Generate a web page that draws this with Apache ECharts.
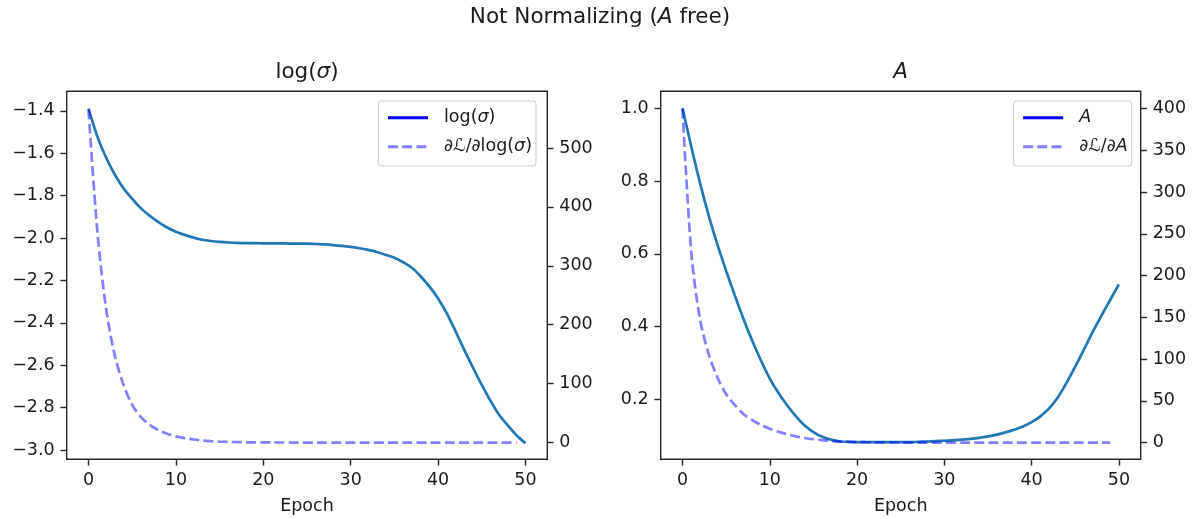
<!DOCTYPE html>
<html><head><meta charset="utf-8">
<script src="https://cdn.jsdelivr.net/npm/echarts@6/dist/echarts.min.js"></script>
<style>html,body{margin:0;padding:0;background:#fff}#c{width:1199px;height:519px}</style>
</head><body><div id="c"></div>
<script>
const epochs = [0,1,2,3,4,5,6,7,8,9,10,11,12,13,14,15,16,17,18,19,20,21,22,23,24,25,26,27,28,29,30,31,32,33,34,35,36,37,38,39,40,41,42,43,44,45,46,47,48,49,50];
const logSigma = [-1.389,-1.52,-1.62,-1.70,-1.765,-1.815,-1.86,-1.895,-1.925,-1.95,-1.97,-1.985,-1.998,-2.008,-2.014,-2.018,-2.021,-2.023,-2.024,-2.024,-2.025,-2.025,-2.025,-2.026,-2.026,-2.026,-2.028,-2.030,-2.033,-2.037,-2.042,-2.048,-2.056,-2.066,-2.079,-2.093,-2.114,-2.14,-2.18,-2.228,-2.285,-2.355,-2.44,-2.528,-2.612,-2.693,-2.768,-2.835,-2.885,-2.932,-2.968];
const gradLogSigma = [565,360,228,148,98,64,43,30,21,15,10.5,7.5,5.2,3.6,2.5,1.7,1.2,0.8,0.5,0.35,0.25,0.18,0.12,0.08,0.05,0.03,0.02,0.01,0,0,0,0,0,0,0,0,0,0,0,0,0,0,0,0,0,0,0,0,0,0];
const aValues = [1.0,0.895,0.795,0.705,0.625,0.553,0.485,0.42,0.36,0.306,0.257,0.217,0.183,0.153,0.128,0.11,0.097,0.089,0.084,0.083,0.082,0.082,0.082,0.082,0.082,0.082,0.082,0.083,0.084,0.085,0.086,0.087,0.089,0.091,0.094,0.098,0.103,0.109,0.116,0.125,0.137,0.153,0.175,0.205,0.245,0.29,0.337,0.385,0.43,0.473,0.516];
const gradA = [400,228,148,106,78,58,45,34,27,21,16.5,13,10,7.5,5.5,4,3,2,1.4,1,0.7,0.5,0.35,0.25,0.15,0.1,0.05,0.02,0,0,0,0,0,0,0,0,0,0,0,0,0,0,0,0,0,0,0,0,0,0];
const xTicks = [0,10,20,30,40,50];
const logSigmaTicks = [-3.0,-2.8,-2.6,-2.4,-2.2,-2.0,-1.8,-1.6,-1.4];
const gradLogSigmaTicks = [0,100,200,300,400,500];
const aTicks = [0.2,0.4,0.6,0.8,1.0];
const gradATicks = [0,50,100,150,200,250,300,350,400];

const FONT = 'DejaVu Sans';
const TXT = '#1a1a1a';
const AX = '#262626';
const SOLID = '#1f77b4';
const DASH = 'rgba(0,0,255,0.5)';
const DASHPAT = [9.9, 4.3];

function pairs(xs, ys){ return ys.map((y,i)=>[xs[i], y]); }
function minus(v, d){ return (v < 0 ? '\u2212' : '') + Math.abs(v).toFixed(d); }

const tickStyle = {length:6.3, lineStyle:{color:AX, width:1.4}};
const lab = {fontSize:17.5, color:TXT, fontFamily:FONT};

function xAx(g){
  return {gridIndex:g, type:'value', min:-2.5, max:52.5,
    axisLine:{show:false, onZero:false}, splitLine:{show:false},
    axisTick:Object.assign({customValues:xTicks}, tickStyle),
    axisLabel:Object.assign({customValues:xTicks, margin:12}, lab),
    name:'Epoch', nameLocation:'middle', nameGap:38, nameTextStyle:lab};
}
function yAx(g, pos, mn, mx, ticks, fmt){
  return {gridIndex:g, type:'value', position:pos, min:mn, max:mx,
    axisLine:{show:false, onZero:false}, splitLine:{show:false},
    axisTick:Object.assign({customValues:ticks}, tickStyle),
    axisLabel:Object.assign({customValues:ticks, margin:12, formatter:fmt}, lab)};
}

const legendNames = {
  ls_solid:'{s| }{n|log(}{i|\u03c3}{n|)}',
  ls_dash:'{s| }{n|\u2202\u2112/\u2202log(}{i|\u03c3}{n|)}',
  a_solid:'{s| }{i|A}',
  a_dash:'{s| }{n|\u2202\u2112/\u2202}{i|A}'
};
const rich = {
  s:{width:11, fontSize:17.5, fontFamily:FONT},
  n:{fontSize:17.5, fontFamily:FONT, color:TXT},
  i:{fontSize:17.5, fontFamily:FONT, color:TXT, fontStyle:'italic'}
};
function legend(names, right){
  return {data:names.map(n=>({name:n})), orient:'vertical', right:right, top:101, itemWidth:40, itemHeight:14, itemGap:9,
    padding:[6.7,4,9.3,8], borderColor:'#cccccc', borderWidth:1, borderRadius:3,
    backgroundColor:'rgba(255,255,255,0.8)', selectedMode:false,
    itemStyle:{color:'rgba(0,0,0,0)', borderColor:'rgba(0,0,0,0)', borderWidth:0, opacity:0},
    lineStyle:{width:3},
    formatter:n=>legendNames[n],
    textStyle:{fontSize:17.5, color:TXT, fontFamily:FONT, lineHeight:20, rich:rich}};
}
function line(name, xi, yi, data, color, type){
  return {name:name, type:'line', xAxisIndex:xi, yAxisIndex:yi, data:data, symbol:'none', showSymbol:false,
    smooth:0.3, silent:true, animation:false,
    lineStyle:{color:color, width:2.7, type:type, cap:'butt'}, itemStyle:{color:color}};
}

const chart = echarts.init(document.getElementById('c'), null, {renderer:'canvas'});
const titleRich = {
  n:{fontSize:21.5, fontFamily:FONT, color:TXT, fontWeight:'normal'},
  i:{fontSize:21.5, fontFamily:FONT, color:TXT, fontWeight:'normal', fontStyle:'italic'}
};
chart.setOption({
  animation:false,
  backgroundColor:'#ffffff',
  title:[
    {text:'{n|Not Normalizing (}{i|A}{n| free)}', left:600, top:6.7, textAlign:'center', padding:0,
      textStyle:{fontSize:21.5, fontWeight:'normal', fontFamily:FONT, color:TXT, rich:titleRich}},
    {text:'{n|log(}{i|\u03c3}{n|)}', left:307, top:61, textAlign:'center', padding:0,
      textStyle:{fontSize:21.5, fontWeight:'normal', fontFamily:FONT, color:TXT, rich:titleRich}},
    {text:'{i|A}', left:900.7, top:61, textAlign:'center', padding:0,
      textStyle:{fontSize:21.5, fontWeight:'normal', fontFamily:FONT, color:TXT, rich:titleRich}}
  ],
  grid:[
    {left:66.7, top:91.2, width:480.6, height:368.1, show:true, borderColor:AX, borderWidth:1.4, backgroundColor:'transparent', containLabel:false, outerBoundsMode:'none'},
    {left:660.7, top:91.2, width:480, height:368.1, show:true, borderColor:AX, borderWidth:1.4, backgroundColor:'transparent', containLabel:false, outerBoundsMode:'none'}
  ],
  xAxis:[xAx(0), xAx(1)],
  yAxis:[
    yAx(0,'left',-3.044,-1.307,logSigmaTicks,v=>minus(v,1)),
    yAx(0,'right',-28.4,596.4,gradLogSigmaTicks,v=>String(v)),
    yAx(1,'left',0.035,1.047,aTicks,v=>v.toFixed(1)),
    yAx(1,'right',-20,421,gradATicks,v=>String(v))
  ],
  legend:[legend(['ls_solid','ls_dash'], 663), legend(['a_solid','a_dash'], 67.3)],
  series:[
    line('logsigma',0,0,pairs(epochs,logSigma),SOLID,'solid'),
    line('gradlogsigma',0,1,pairs(epochs,gradLogSigma),DASH,DASHPAT),
    line('A',1,2,pairs(epochs,aValues),SOLID,'solid'),
    line('gradA',1,3,pairs(epochs,gradA),DASH,DASHPAT),
    line('ls_solid',0,0,[],'#0000ff','solid'),
    line('ls_dash',0,0,[],DASH,DASHPAT),
    line('a_solid',1,2,[],'#0000ff','solid'),
    line('a_dash',1,2,[],DASH,DASHPAT)
  ]
});
</script></body></html>
